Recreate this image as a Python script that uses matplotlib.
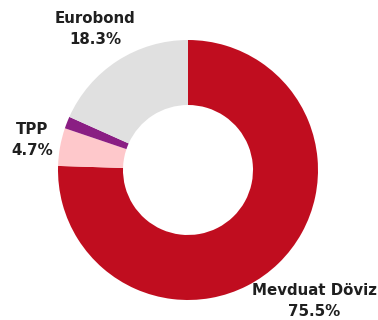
import matplotlib.pyplot as plt

# shares of the portfolio, clockwise from 12 o'clock
names = ['Mevduat Döviz', 'TPP', 'Diğer', 'Eurobond']
shares = [75.5, 4.7, 1.5, 18.3]
colors = ['#C00D1F', '#FEC8CB', '#8A1E83', '#E0E0E0']

fig = plt.figure(figsize=(3.78, 3.2), dpi=100)
ax = fig.add_axes([0, 0, 1, 1])
ax.pie(shares, colors=colors, startangle=90, counterclock=False,
       center=(188, 150), radius=130, wedgeprops=dict(width=65, linewidth=0))
ax.set_xlim(0, 378)
ax.set_ylim(0, 320)
ax.set_aspect('equal')
ax.axis('off')

txt = dict(ha='center', va='center', fontsize=10.8, fontweight='bold',
           color='#1f1f1f', family='DejaVu Sans', linespacing=1.55)
ax.text(314, 19, f'{names[0]}\n{shares[0]}%', **txt)
ax.text(32, 180, f'{names[1]}\n{shares[1]}%', **txt)
ax.text(95, 291, f'{names[3]}\n{shares[3]}%', **txt)

fig.savefig('out.png', dpi=100)
